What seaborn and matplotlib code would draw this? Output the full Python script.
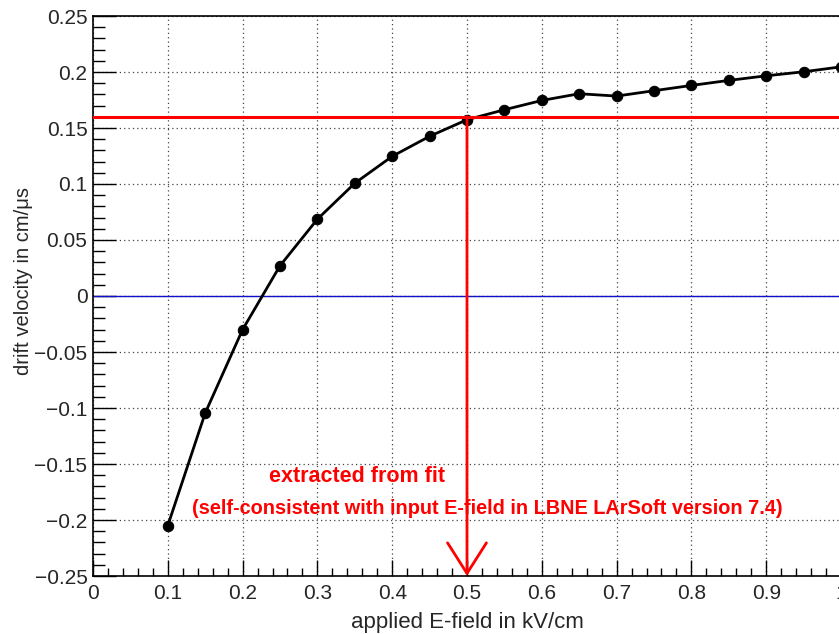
import numpy as np
import pandas as pd
import matplotlib
matplotlib.use("Agg")
import matplotlib.pyplot as plt
from matplotlib.ticker import MultipleLocator, FuncFormatter
import seaborn as sns

# applied field (kV/cm) and drift velocity (cm/us)
e_field = [0.10, 0.15, 0.20, 0.25, 0.30, 0.35, 0.40, 0.45, 0.50, 0.55,
           0.60, 0.65, 0.70, 0.75, 0.80, 0.85, 0.90, 0.95, 1.00]
drift_velocity = [-0.205, -0.1045, -0.030, 0.027, 0.0686, 0.1007, 0.1247,
                  0.1426, 0.1574, 0.1663, 0.1746, 0.1806, 0.1785, 0.1833,
                  0.1880, 0.1925, 0.1966, 0.2002, 0.2046]

# value extracted from the fit
v_fit = 0.16
e_input = 0.5

x_label = "applied E-field in kV/cm"
y_label = "drift velocity in cm/\u03bcs"
note_main = "extracted from fit"
note_sub = "(self-consistent with input E-field in LBNE LArSoft version 7.4)"


def fmt_tick(v, pos):
    s = "%g" % round(v, 4)
    return s.replace("-", "\u2212")


def main() -> None:
    sns.set_style("white")
    plt.rcParams["font.family"] = ["Liberation Sans", "DejaVu Sans"]

    df = pd.DataFrame({"E": e_field, "v": drift_velocity})

    fig = plt.figure(figsize=(8.39, 6.34), dpi=100)
    ax = fig.add_axes([93 / 839, 1 - 576 / 634, 748 / 839, 560 / 634])

    ax.set_xlim(0, 1.0)
    ax.set_ylim(-0.25, 0.25)

    """grade pontilhada nos ticks principais"""
    ax.grid(True, which="major", color="#444444", linestyle=(0, (1, 2.5)), lw=0.9)

    ax.axhline(0, color="#1010c8", lw=1.0, zorder=2)

    sns.lineplot(data=df, x="E", y="v", ax=ax, color="black", lw=2.0,
                 marker="o", markersize=7.5, markeredgecolor="black",
                 zorder=4)

    ax.axhline(v_fit, color="red", lw=2.2, zorder=5)
    ax.annotate("", xy=(e_input, -0.25), xytext=(e_input, v_fit),
                arrowprops=dict(arrowstyle="->,head_length=2.2,head_width=1.4",
                                color="red", lw=2.0, shrinkA=0, shrinkB=0,
                                mutation_scale=10),
                zorder=5, annotation_clip=False)

    ax.text(0.353, -0.1613, note_main, color="red", fontsize=15.5,
            fontweight="bold", ha="center", va="center")
    ax.text(0.527, -0.1895, note_sub, color="red", fontsize=14.3,
            fontweight="bold", ha="center", va="center")

    ax.xaxis.set_major_locator(MultipleLocator(0.1))
    ax.xaxis.set_minor_locator(MultipleLocator(0.02))
    ax.yaxis.set_major_locator(MultipleLocator(0.05))
    ax.yaxis.set_minor_locator(MultipleLocator(0.01))
    ax.xaxis.set_major_formatter(FuncFormatter(fmt_tick))
    ax.yaxis.set_major_formatter(FuncFormatter(fmt_tick))

    ax.tick_params(axis="both", which="both", direction="in", color="black",
                   labelsize=15, bottom=True, left=True, top=False, right=False)
    ax.tick_params(axis="x", which="major", length=11.5, width=1.0, pad=6)
    ax.tick_params(axis="x", which="minor", length=5.8, width=1.0)
    ax.tick_params(axis="y", which="major", length=16.5, width=1.0, pad=4)
    ax.tick_params(axis="y", which="minor", length=8.6, width=1.0)

    for side in ["left", "bottom", "top", "right"]:
        ax.spines[side].set_color("black")
        ax.spines[side].set_linewidth(1.2)

    ax.set_xlabel(x_label, fontsize=16, labelpad=6)
    ax.set_ylabel(y_label, fontsize=14.5)
    ax.yaxis.set_label_coords(-0.080, 0.527)

    fig.savefig("out.png", dpi=100)


if __name__ == "__main__":
    main()
